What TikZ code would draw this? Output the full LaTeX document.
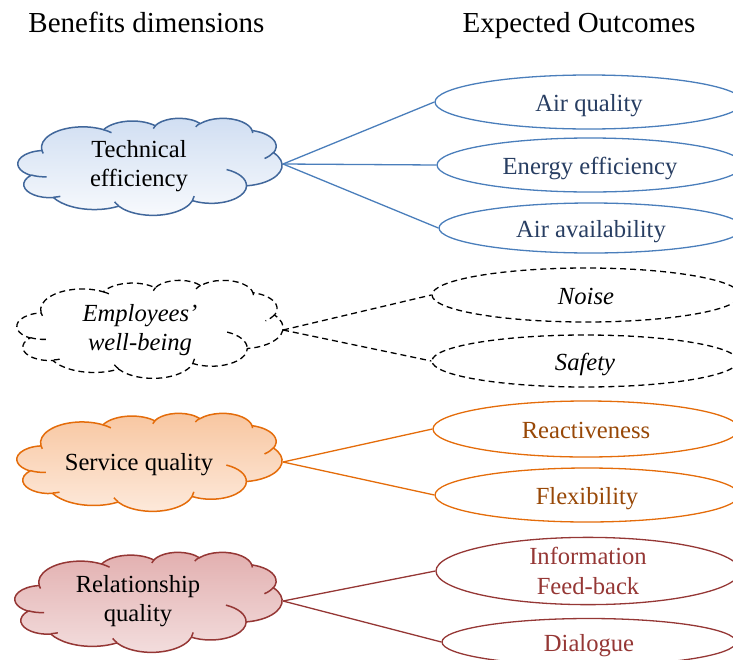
\documentclass[tikz,border=0pt]{standalone}
\usepackage{fontspec}
\setmainfont{Liberation Serif}
\usetikzlibrary{shapes.geometric}
\definecolor{bline}{HTML}{4A7EBB}
\definecolor{bcloud}{HTML}{41679B}
\definecolor{btext}{HTML}{283E62}
\definecolor{bfilltop}{HTML}{D0DEF2}
\definecolor{bfillbot}{HTML}{F8FAFD}
\definecolor{oline}{HTML}{E46C0A}
\definecolor{otext}{HTML}{984807}
\definecolor{ofilltop}{HTML}{F8C6A0}
\definecolor{ofillbot}{HTML}{FDEADC}
\definecolor{rline}{HTML}{953735}
\definecolor{rtext}{HTML}{953735}
\definecolor{rfilltop}{HTML}{E2AFAF}
\definecolor{rfillbot}{HTML}{F3DEDE}
% arc given in "visual" angles (DrawingML arcTo)
\newcommand\oarc[4]{arc[x radius=#1, y radius=#2, start angle={atan2((#1)*sin(#3),(#2)*cos(#3))}, delta angle={mod(atan2((#1)*sin((#3)+(#4)),(#2)*cos((#3)+(#4)))-atan2((#1)*sin(#3),(#2)*cos(#3))+720,360)}]}
\newcommand\cloudoutline{(39.00,143.70)
 \oarc{67.53}{91.90}{-190.4875}{123.7805}
 \oarc{53.33}{72.67}{-144.1024}{89.9452}
 \oarc{43.65}{59.45}{-145.8079}{99.7230}
 \oarc{48.57}{65.95}{-130.9861}{117.2417}
 \oarc{53.33}{72.73}{-78.7089}{109.0269}
 \oarc{67.75}{92.20}{-46.2673}{130.2690}
 \oarc{57.85}{78.67}{0.6250}{114.0333}
 \oarc{67.52}{92.15}{22.4516}{115.1726}
 \oarc{77.20}{105.43}{66.2426}{75.7110}
 \oarc{43.60}{59.18}{-274.9421}{146.7356}
 \oarc{43.45}{59.45}{-246.8285}{152.5189} -- cycle}
\newcommand\cloudinner{
 (46.93,261.77) \oarc{43.45}{59.45}{86.7420}{26.4295}
 (69.28,348.99) \oarc{43.60}{59.18}{73.6105}{11.4475}
 (164.78,390.90) \oarc{67.52}{92.15}{137.6242}{14.0811}
 (288.27,347.51) \oarc{67.52}{92.15}{6.4533}{15.9984}
 (341.29,229.54) \oarc{57.85}{78.67}{-70.2924}{70.9174}
 (417.98,153.54) \oarc{53.33}{72.73}{30.3180}{27.7515}
 (383.24,54.26) \oarc{48.57}{65.95}{-13.7443}{14.8589}
 (290.78,39.52) \oarc{48.57}{65.95}{-149.1815}{18.1954}
 (221.41,47.20) \oarc{43.65}{59.45}{-163.4943}{17.6864}
 (140.00,51.92) \oarc{67.53}{91.90}{-66.7070}{12.3194}
 (41.27,157.89) \oarc{67.53}{91.90}{157.6544}{11.8582}}
% #1 stroke style, #2 fill style, #3 cx, #4 cy, #5 w, #6 h
\newcommand\ocloud[6]{%
  \pgfmathsetmacro\ocsx{#5/432}%
  \pgfmathsetmacro\ocsy{#6/432}%
  \begin{scope}[shift={(#3-#5/2,#4-#6/2)}, x=\ocsx pt, y=-\ocsy pt]
    \path[#1,#2] \cloudoutline;
    \path[#1] \cloudinner;
  \end{scope}}
\begin{document}
\begin{tikzpicture}[x=1pt,y=-1pt,
  txt/.style={font=\fontsize{24.6}{29.5}\selectfont, inner sep=0pt, align=center},
  itx/.style={font=\fontsize{24.6}{29.5}\selectfont\itshape, inner sep=0pt, align=center},
  hdr/.style={font=\fontsize{29}{34}\selectfont, inner sep=0pt, anchor=base},
  oval/.style={ellipse, inner sep=0pt, line width=1.3pt, font=\fontsize{24.6}{30}\selectfont, align=center},
  one/.style={text height=19pt, text depth=0pt},
  boval/.style={oval, draw=bline, text=btext},
  doval/.style={oval, draw=black, dash pattern=on 6pt off 4pt, font=\fontsize{24.6}{30}\selectfont\itshape},
  ooval/.style={oval, draw=oline, text=otext},
  roval/.style={oval, draw=rline, text=rtext},
  bl/.style={draw=bline, line width=1.3pt},
  dl/.style={draw=black, line width=1.3pt, dash pattern=on 6pt off 4pt},
  ol/.style={draw=oline, line width=1.3pt},
  rl/.style={draw=rline, line width=1.3pt},
  bcs/.style={draw=bcloud, line width=1.5pt},
  dcs/.style={draw=black, line width=1.3pt, dash pattern=on 6pt off 4pt},
  ocs/.style={draw=oline, line width=1.5pt},
  rcs/.style={draw=rline, line width=1.5pt}
]
\useasboundingbox (0,0) rectangle (733,659);
\clip (0,0) rectangle (733,659);

% headers
\node[hdr] (h1) at (146.5,32) {Benefits dimensions};
\node[hdr] (h2) at (579,32) {Expected Outcomes};

% clouds
\ocloud{bcs}{top color=bfilltop, bottom color=bfillbot}{150}{166.5}{264}{97}
\ocloud{dcs}{fill=white}{150}{329}{266}{98}
\ocloud{ocs}{top color=ofilltop, bottom color=ofillbot}{149.5}{462}{265}{98}
\ocloud{rcs}{top color=rfilltop, bottom color=rfillbot}{148.5}{602}{267}{100}

\node[txt] (techt) at (139,166) {Technical\\efficiency};
\node[itx] (empt) at (140,330) {Employees’\\well-being};
\node[txt, one] (servt) at (139,461) {Service quality};
\node[txt] (relt) at (138,601) {Relationship\\quality};

\coordinate (tech) at (283,164);
\coordinate (emp) at (283,330);
\coordinate (serv) at (283,462);
\coordinate (rel) at (283,601);

% outcomes
\node[boval, one, minimum width=308pt, minimum height=54pt] (air) at (589,102) {Air quality};
\node[boval, one, minimum width=306pt, minimum height=54pt] (energy) at (590,165) {Energy efficiency};
\node[boval, one, minimum width=304pt, minimum height=50pt] (avail) at (591,228) {Air availability};
\node[doval, one, minimum width=308pt, minimum height=54pt] (noise) at (586,295) {Noise};
\node[doval, one, minimum width=306pt, minimum height=52pt] (safety) at (585,361) {Safety};
\node[ooval, one, minimum width=306pt, minimum height=56pt] (react) at (586,429) {Reactiveness};
\node[ooval, one, minimum width=304pt, minimum height=54pt] (flex) at (587,495) {Flexibility};
\node[roval, minimum width=304pt, minimum height=62pt] (info) at (588,571) {Information\\Feed-back};
\node[roval, one, minimum width=294pt, minimum height=47pt] (dial) at (589,642) {Dialogue};

% connectors
\draw[bl] (tech) -- (air.west);
\draw[bl] (tech) -- (energy.west);
\draw[bl] (tech) -- (avail.west);
\draw[dl] (emp) -- (noise.west);
\draw[dl] (emp) -- (safety.west);
\draw[ol] (serv) -- (react.west);
\draw[ol] (serv) -- (flex.west);
\draw[rl] (rel) -- (info.west);
\draw[rl] (rel) -- (dial.west);
\end{tikzpicture}
\end{document}
